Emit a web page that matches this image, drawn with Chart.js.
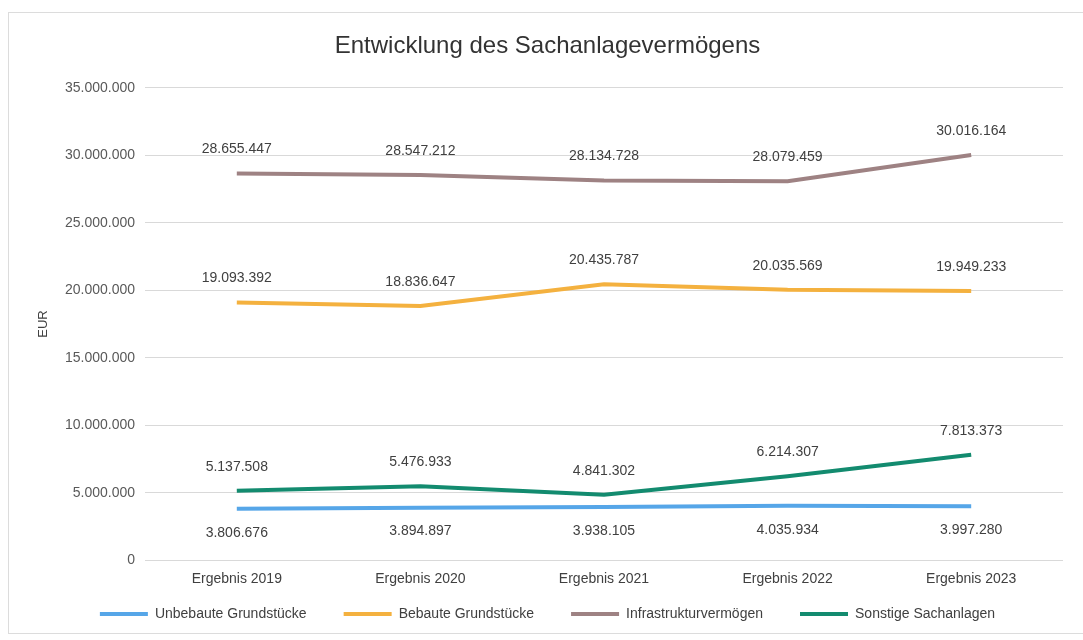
<!DOCTYPE html>
<html lang="de">
<head>
<meta charset="utf-8">
<title>Entwicklung des Sachanlagevermögens</title>
<script src="https://cdn.jsdelivr.net/npm/chart.js@4.4.1/dist/chart.umd.min.js"></script>
<style>
    html, body { margin: 0; padding: 0; background: #fff; }
    #frame {
        position: absolute; left: 8px; top: 12px; width: 1090px; height: 622px;
        border: 1px solid #dcdcdc; box-sizing: border-box;
    }
    #wrap { position: absolute; left: 0; top: 0; width: 1083px; height: 640px; }
</style>
</head>
<body>
<div id="frame"></div>
<div id="wrap"><canvas id="chart"></canvas></div>
<script>
// --- Data ---
const categories = ['Ergebnis 2019', 'Ergebnis 2020', 'Ergebnis 2021', 'Ergebnis 2022', 'Ergebnis 2023'];
const unbebaute = [3806676, 3894897, 3938105, 4035934, 3997280];
const bebaute = [19093392, 18836647, 20435787, 20035569, 19949233];
const infrastruktur = [28655447, 28547212, 28134728, 28079459, 30016164];
const sonstige = [5137508, 5476933, 4841302, 6214307, 7813373];

const FONT = "'Liberation Sans', Arial, sans-serif";

// German thousands separator
function formatDE(n) {
    return String(Math.round(n)).replace(/\B(?=(\d{3})+(?!\d))/g, '.');
}

// Excel-style value labels above / below each point
const valueLabels = {
    id: 'valueLabels',
    afterDatasetsDraw(chart) {
        const ctx = chart.ctx;
        ctx.save();
        ctx.font = '14px ' + FONT;
        ctx.fillStyle = '#404040';
        ctx.textAlign = 'center';
        ctx.textBaseline = 'middle';
        chart.data.datasets.forEach((ds, i) => {
            const meta = chart.getDatasetMeta(i);
            meta.data.forEach((pt, j) => {
                const off = ds.labelBelow ? 24 : -24;
                ctx.fillText(formatDE(ds.data[j]), pt.x, pt.y + off);
            });
        });
        ctx.restore();
    }
};

function series(label, data, color, below) {
    return {
        label: label,
        data: data,
        borderColor: color,
        backgroundColor: color,
        borderWidth: 4,
        pointRadius: 0,
        pointHoverRadius: 0,
        tension: 0,
        fill: false,
        labelBelow: below
    };
}

const ctx = document.getElementById('chart').getContext('2d');
new Chart(ctx, {
    type: 'line',
    data: {
        labels: categories,
        datasets: [
            series('Unbebaute Grundstücke', unbebaute, '#56a6e8', true),
            series('Bebaute Grundstücke', bebaute, '#f4b13f', false),
            series('Infrastrukturvermögen', infrastruktur, '#9e8283', false),
            series('Sonstige Sachanlagen', sonstige, '#138b6f', false)
        ]
    },
    options: {
        responsive: true,
        maintainAspectRatio: false,
        animation: false,
        layout: { padding: { left: 32, right: 20, top: 24, bottom: 9 } },
        plugins: {
            title: {
                display: true,
                text: 'Entwicklung des Sachanlagevermögens',
                color: '#333',
                font: { family: FONT, size: 24, weight: 'normal' },
                padding: { top: 8, bottom: 27 }
            },
            legend: {
                position: 'bottom',
                labels: {
                    usePointStyle: true,
                    pointStyle: 'line',
                    pointStyleWidth: 48,
                    color: '#404040',
                    font: { family: FONT, size: 14 },
                    padding: 16,
                    // wider gap between entries than the vertical padding
                    generateLabels: (chart) => {
                        const items = Chart.defaults.plugins.legend.labels.generateLabels(chart);
                        items.forEach((it, i) => {
                            if (i < items.length - 1) it.text += '\u2003\u2002';
                        });
                        return items;
                    }
                }
            },
            tooltip: { enabled: false }
        },
        scales: {
            x: {
                offset: true,
                grid: { display: false },
                border: { display: false },
                ticks: {
                    color: '#404040',
                    font: { family: FONT, size: 14 },
                    padding: 3
                }
            },
            y: {
                min: 0,
                max: 35000000,
                afterFit: (scale) => { scale.width = 113; },
                grid: { color: '#d9d9d9', drawTicks: false },
                border: { display: false },
                title: {
                    display: true,
                    text: 'EUR',
                    color: '#404040',
                    font: { family: FONT, size: 13 },
                    padding: { top: 4, bottom: 0 }
                },
                ticks: {
                    stepSize: 5000000,
                    color: '#595959',
                    font: { family: FONT, size: 14 },
                    padding: 10,
                    callback: (v) => formatDE(v)
                }
            }
        }
    },
    plugins: [valueLabels]
});
</script>
</body>
</html>
